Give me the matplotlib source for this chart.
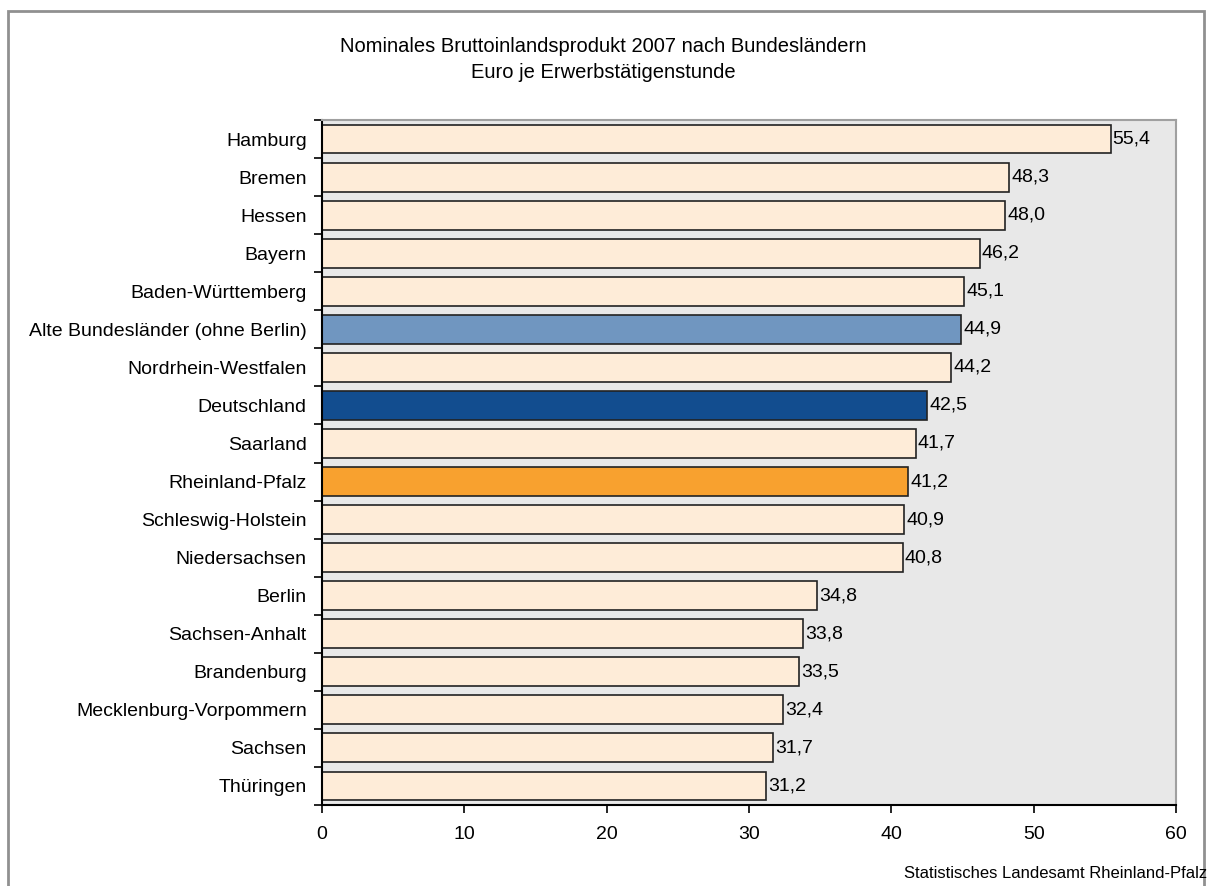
import numpy as np
import matplotlib.pyplot as plt
from matplotlib.patches import Rectangle

# Data (top to bottom as shown)
laender = ['Hamburg', 'Bremen', 'Hessen', 'Bayern', 'Baden-Württemberg',
           'Alte Bundesländer (ohne Berlin)', 'Nordrhein-Westfalen', 'Deutschland',
           'Saarland', 'Rheinland-Pfalz', 'Schleswig-Holstein', 'Niedersachsen',
           'Berlin', 'Sachsen-Anhalt', 'Brandenburg', 'Mecklenburg-Vorpommern',
           'Sachsen', 'Thüringen']
werte = [55.4, 48.3, 48.0, 46.2, 45.1, 44.9, 44.2, 42.5, 41.7, 41.2, 40.9, 40.8,
         34.8, 33.8, 33.5, 32.4, 31.7, 31.2]
x_ticks = [0, 10, 20, 30, 40, 50, 60]

special = {'Alte Bundesländer (ohne Berlin)': '#7096c0',
           'Deutschland': '#124d8f',
           'Rheinland-Pfalz': '#f8a12f'}
colors = [special.get(l, '#feecd8') for l in laender]

plt.rcParams['font.family'] = 'Liberation Sans'
fs = 14

fig = plt.figure(figsize=(12.07, 8.86), dpi=100)
# outer chart frame
fig.patches.append(Rectangle((8 / 1207, -0.05), 1196 / 1207, 1 - 11 / 886 + 0.05,
                             transform=fig.transFigure, fill=False,
                             edgecolor='#909090', linewidth=2))

ax = fig.add_axes([322 / 1207, 1 - 805 / 886, (1176 - 322) / 1207, (805 - 120) / 886])
ax.set_facecolor('#e8e8e8')

y = np.arange(len(laender))
ax.barh(y, werte, height=0.76, color=colors, edgecolor='#222222', linewidth=1.2)
for yi, v in zip(y, werte):
    ax.text(v + 0.15, yi, f'{v:.1f}'.replace('.', ','), va='center', ha='left', fontsize=fs)

ax.set_xlim(0, 60)
ax.set_ylim(len(laender) - 0.5, -0.5)
ax.set_xticks(x_ticks)
ax.set_xticklabels([str(t) for t in x_ticks], fontsize=fs)
ax.set_yticks(y)
ax.set_yticklabels(laender, fontsize=fs)
ax.tick_params(axis='y', length=0, pad=11)
ax.set_yticks(np.arange(len(laender) + 1) - 0.5, minor=True)
ax.tick_params(axis='y', which='minor', length=6, width=1.2, color='black')
ax.tick_params(axis='x', length=6, width=1.2, pad=9)

for s in ['top', 'right']:
    ax.spines[s].set_color('#a0a0a0')
    ax.spines[s].set_linewidth(1.5)
for s in ['left', 'bottom']:
    ax.spines[s].set_color('black')
    ax.spines[s].set_linewidth(1.5)

fig.text(0.5, 1 - 47 / 886, 'Nominales Bruttoinlandsprodukt 2007 nach Bundesländern',
         ha='center', va='center', fontsize=14.5)
fig.text(0.5, 1 - 73 / 886, 'Euro je Erwerbstätigenstunde',
         ha='center', va='center', fontsize=14.5)
fig.text(1207 / 1207, 1 - 874 / 886, 'Statistisches Landesamt Rheinland-Pfalz',
         ha='right', va='center', fontsize=12)

plt.savefig('out.png', dpi=100)
